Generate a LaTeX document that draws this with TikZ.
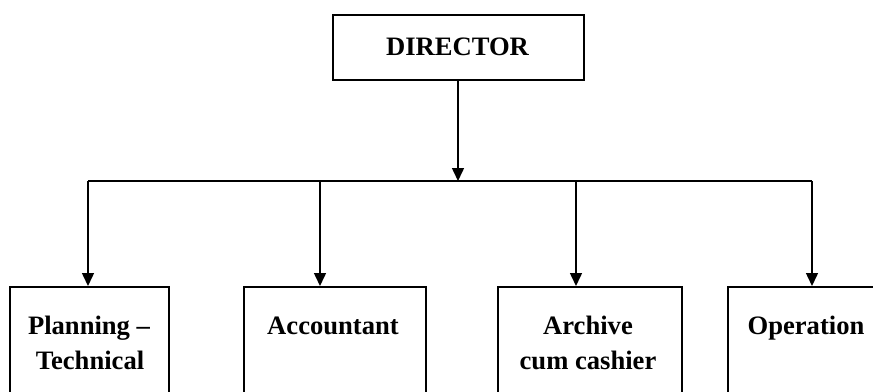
\documentclass[tikz,border=0pt]{standalone}
\usepackage{fontspec}
\setmainfont{Liberation Serif}
\usetikzlibrary{arrows.meta}
\begin{document}
\begin{tikzpicture}[x=1pt,y=-1pt,
  box/.style={draw,line width=1.5pt,inner sep=0pt,anchor=north west},
  lbl/.style={font=\fontsize{26.6}{30}\selectfont\bfseries,anchor=base,inner sep=0pt},
  arr/.style={line width=1.5pt,-{Triangle[length=13pt,width=12pt]}},
  ln/.style={line width=1.5pt}]
\clip (0,0) rectangle (873,391);
\useasboundingbox (0,0) rectangle (873,391);
\fill[white] (0,0) rectangle (873,391);
% director
\node[box,minimum width=251pt,minimum height=65pt] (dir) at (332,14) {};
\node[lbl] (tdir) at (457.5,55) {DIRECTOR};
% bottom boxes
\node[box,minimum width=159pt,minimum height=130pt] (b1) at (9,286) {};
\node[box,minimum width=182pt,minimum height=130pt] (b2) at (243,286) {};
\node[box,minimum width=184pt,minimum height=130pt] (b3) at (497,286) {};
\node[box,minimum width=180pt,minimum height=130pt] (b4) at (727,286) {};
\node[lbl] (t1a) at (89,334) {Planning –};
\node[lbl] (t1b) at (90,369) {Technical};
\node[lbl] (t2) at (333,334) {Accountant};
\node[lbl] (t3a) at (588,334) {Archive};
\node[lbl] (t3b) at (588,369) {cum cashier};
\node[lbl] (t4) at (806,334) {Operation};
% connectors
\coordinate (j1) at (88,181);
\coordinate (j2) at (320,181);
\coordinate (j3) at (576,181);
\coordinate (j4) at (812,181);
\coordinate (jm) at (458,181);
\draw[ln] (j1) -- (j4);
\draw[arr] (dir.south -| jm) -- (jm);
\draw[arr] (j1) -- (j1 |- b1.north);
\draw[arr] (j2) -- (j2 |- b2.north);
\draw[arr] (j3) -- (j3 |- b3.north);
\draw[arr] (j4) -- (j4 |- b4.north);
\end{tikzpicture}
\end{document}
